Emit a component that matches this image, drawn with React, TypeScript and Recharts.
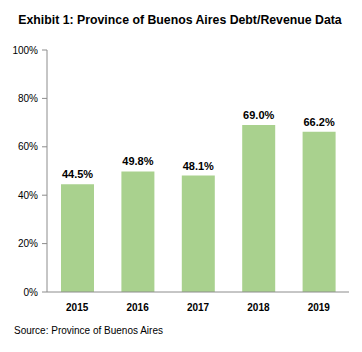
import React from 'react';
import { BarChart, Bar, XAxis, YAxis, LabelList } from 'recharts';

const years = ['2015', '2016', '2017', '2018', '2019'];
const debtToRevenue = [44.5, 49.8, 48.1, 69.0, 66.2];
const yTicks = [0, 20, 40, 60, 80, 100];

const data = years.map((year, i) => ({ year, value: debtToRevenue[i] }));

const font = '"Liberation Sans", Arial, sans-serif';

const App: React.FC = () => {
  return (
    <div style={{ position: 'absolute', left: 0, top: 0, width: 362, height: 352, background: '#fff', fontFamily: font }}>
      <div
        style={{
          position: 'absolute',
          left: 3,
          top: 13,
          width: 354,
          textAlign: 'center',
          fontSize: 12.3,
          fontWeight: 'bold',
          color: '#000',
          lineHeight: '15px',
        }}
      >
        Exhibit 1: Province of Buenos Aires Debt/Revenue Data
      </div>
      <BarChart width={362} height={352} data={data} margin={{ top: 50, right: 13, left: 0, bottom: 30 }}>
        <XAxis
          dataKey="year"
          tick={{ fill: '#000', fontSize: 10, fontWeight: 'bold', fontFamily: font }}
          axisLine={{ stroke: '#8c8c8c' }}
          tickLine={false}
          tickSize={0}
          tickMargin={12}
          height={30}
        />
        <YAxis
          domain={[0, 100]}
          ticks={yTicks}
          tickFormatter={(v: number) => `${v}%`}
          tick={{ fill: '#000', fontSize: 10, fontFamily: font }}
          axisLine={{ stroke: '#8c8c8c' }}
          tickLine={{ stroke: '#8c8c8c' }}
          tickSize={5}
          tickMargin={4}
          width={47}
          interval={0}
        />
        <Bar dataKey="value" fill="#a9d18e" barSize={33} isAnimationActive={false}>
          <LabelList
            dataKey="value"
            position="top"
            offset={6}
            formatter={(v: number) => `${Number(v).toFixed(1)}%`}
            style={{ fill: '#000', fontSize: 11, fontWeight: 'bold', fontFamily: font }}
          />
        </Bar>
      </BarChart>
      <div
        style={{
          position: 'absolute',
          left: 14,
          top: 324,
          fontSize: 10,
          color: '#000',
          lineHeight: '13px',
        }}
      >
        Source: Province of Buenos Aires
      </div>
    </div>
  );
};

export default App;
